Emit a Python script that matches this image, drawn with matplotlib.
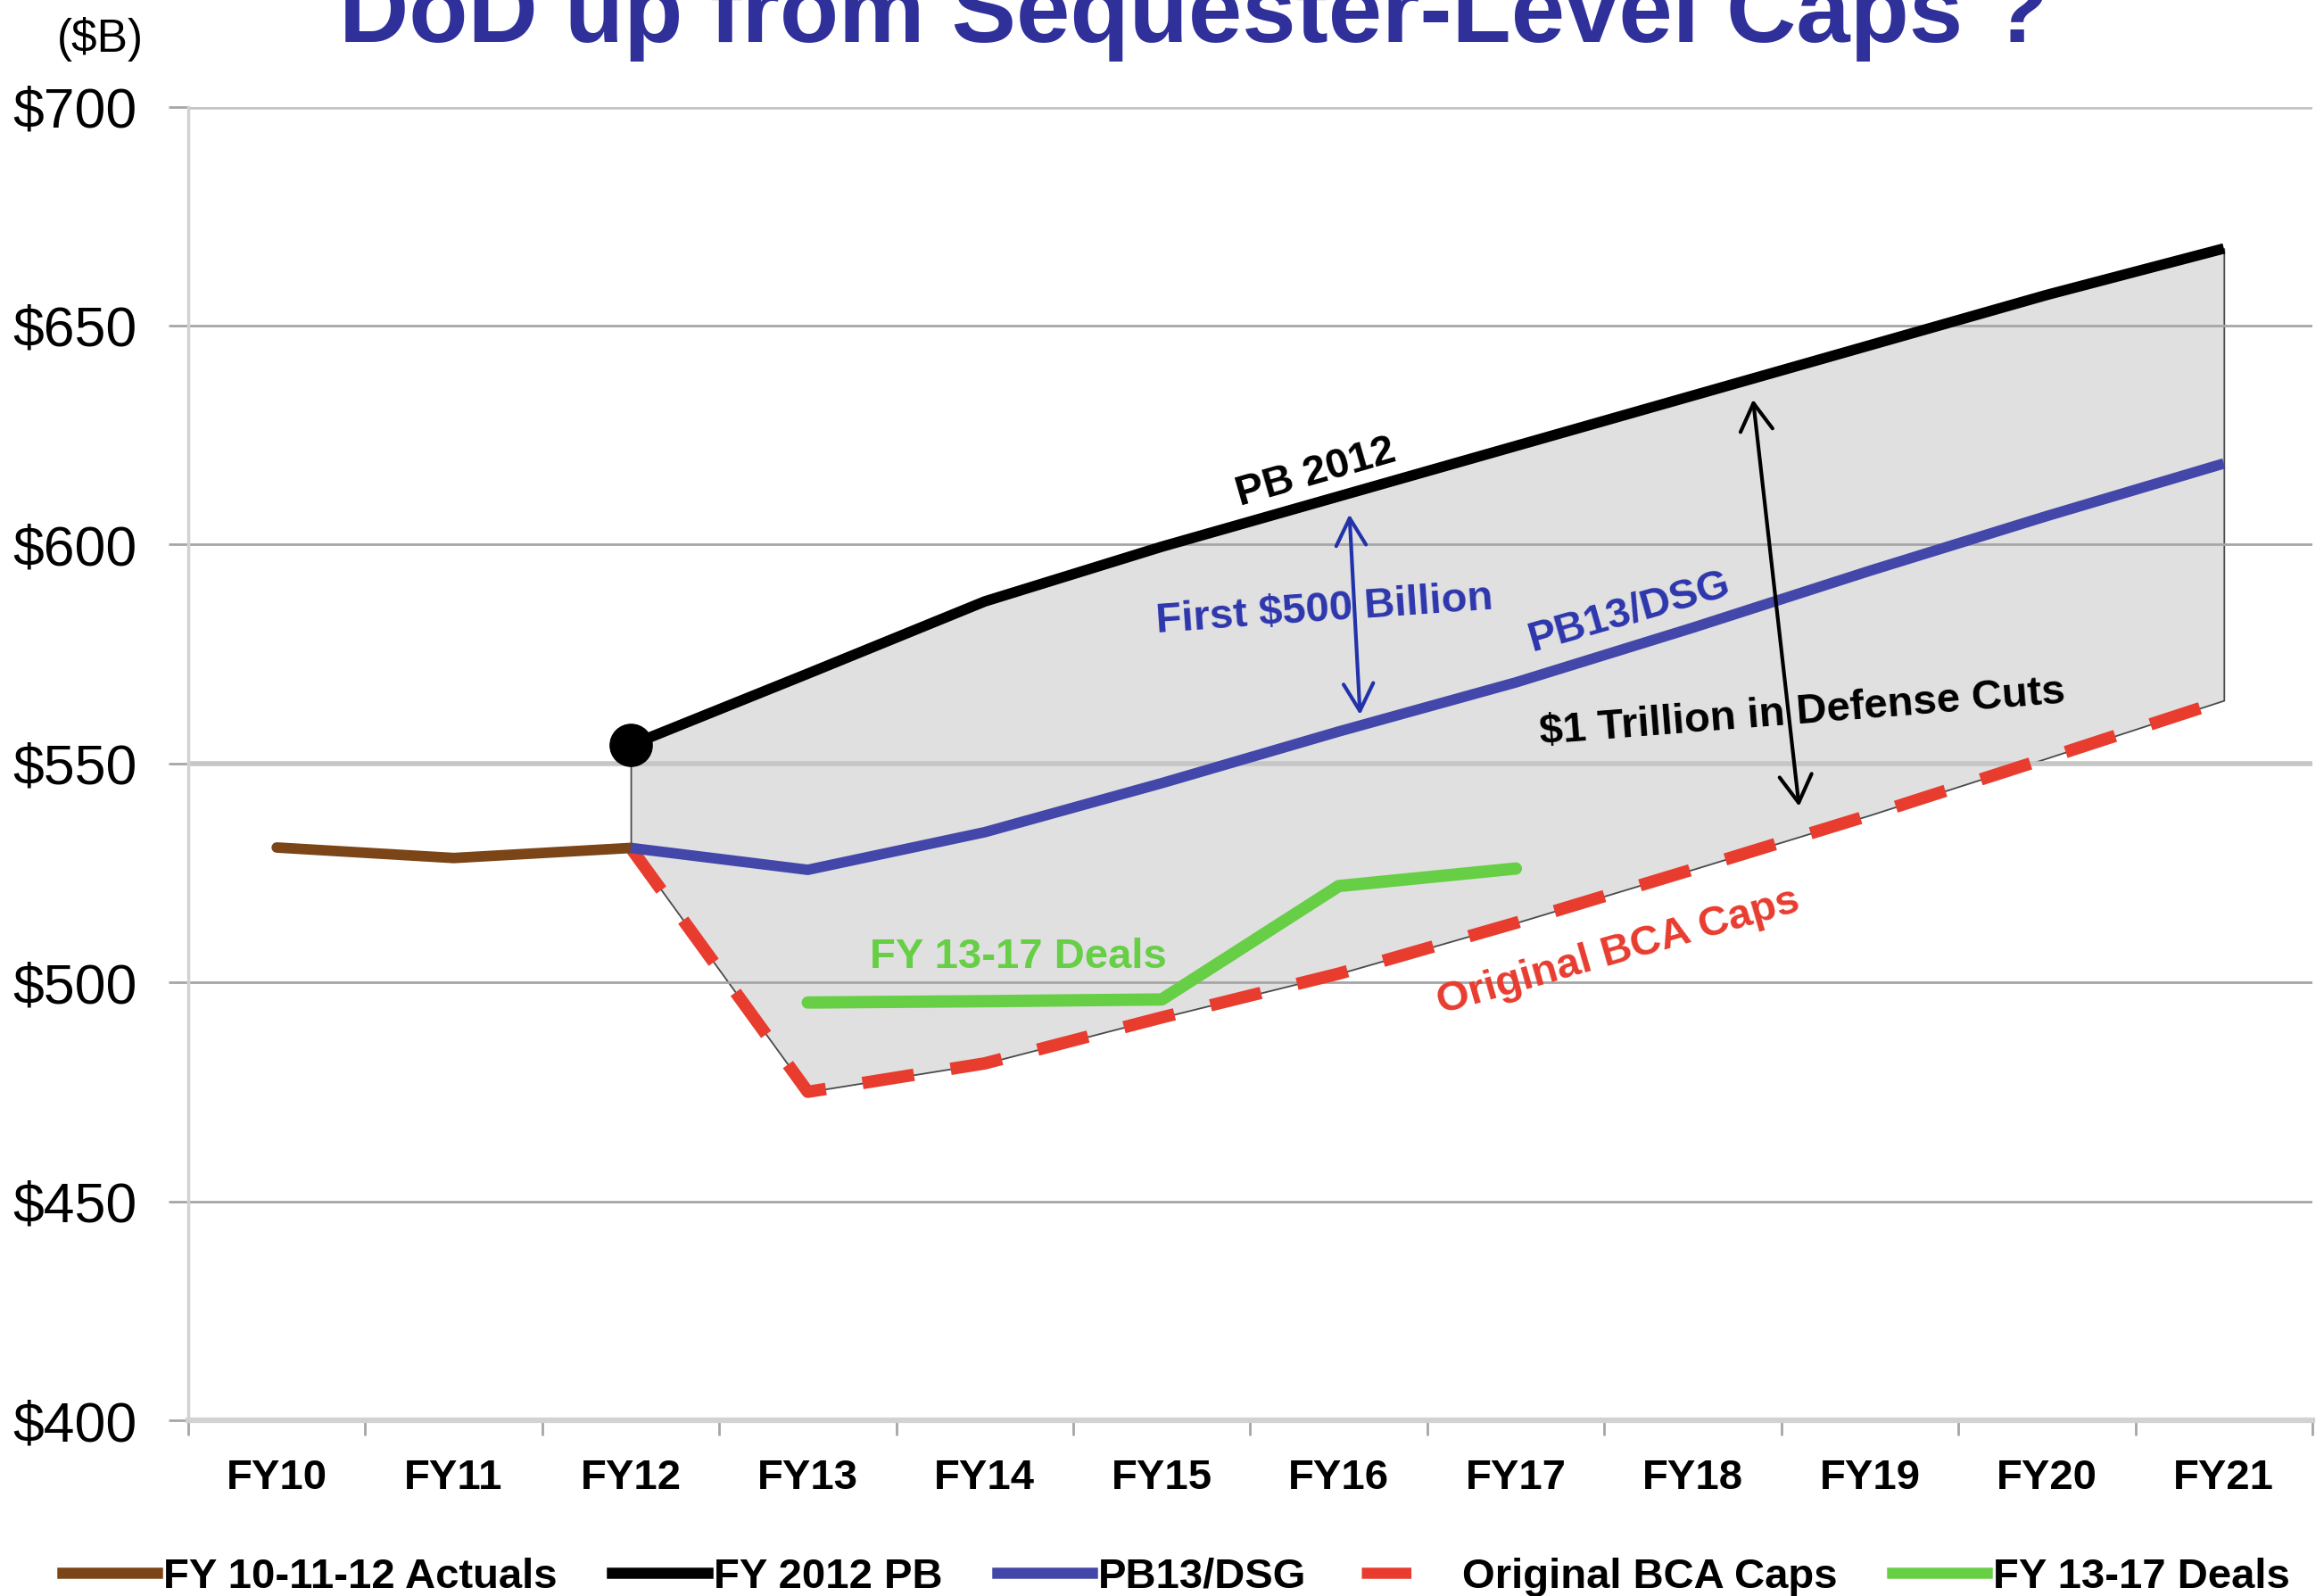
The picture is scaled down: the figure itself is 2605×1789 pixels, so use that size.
import matplotlib
matplotlib.use("Agg")
import matplotlib.pyplot as plt
from matplotlib.lines import Line2D
import numpy as np

plt.rcParams['font.family'] = ['Liberation Sans', 'DejaVu Sans']
plt.rcParams['lines.scale_dashes'] = False

# ---------------- data ----------------
years = ['FY10', 'FY11', 'FY12', 'FY13', 'FY14', 'FY15', 'FY16',
         'FY17', 'FY18', 'FY19', 'FY20', 'FY21']
actuals = [530.8, 528.4, 530.7]                                   # FY10-FY12
pb2012 = [554.2, 570.5, 587.0, 599.5, 611.0, 622.5, 634.0, 645.5, 657.0, 667.6]   # FY12-FY21
pb13_dsg = [530.7, 525.7, 534.3, 545.5, 557.3, 568.5, 581.0, 594.0, 606.5, 618.5]  # FY12-FY21
bca_caps = [530.7, 475.0, 481.5, 492.0, 502.0, 513.6, 525.8, 538.2, 551.2, 564.4]  # FY12-FY21
deals = [495.4, 495.7, 496.1, 522.0, 526.0]                       # FY13-FY17
yticks = [400, 450, 500, 550, 600, 650, 700]
ytick_labels = ['\\$400', '\\$450', '\\$500', '\\$550', '\\$600', '\\$650', '\\$700']
legend_labels = ['FY 10-11-12 Actuals', 'FY 2012 PB', 'PB13/DSG',
                 'Original BCA Caps', 'FY 13-17 Deals']

# ---------------- style ----------------
C_BROWN = '#7b4517'
C_BLACK = '#000000'
C_BLUE = '#4347a9'
C_RED = '#e83c2f'
C_GREEN = '#66cf45'
C_FILL = '#e0e0e0'
C_TXT_BLUE = '#2d36ad'
C_TITLE = '#30309a'

W, H = 2605, 1789
fig = plt.figure(figsize=(W / 100, H / 100), dpi=100)
ax = fig.add_axes([211 / W, 1 - 1592 / H, (2592 - 211) / W, (1592 - 119.5) / H])

x = np.arange(len(years))
x_act = x[0:3]
x_proj = x[2:]
x_deal = x[3:8]

ax.fill_between(x_proj, bca_caps, pb2012, facecolor=C_FILL, edgecolor='#4a4a4a',
                linewidth=1.3, zorder=1)
ax.plot(x_act, actuals, color=C_BROWN, lw=8.5, solid_capstyle='round', zorder=4)
ax.plot(x_proj, pb13_dsg, color=C_BLUE, lw=8.5, solid_capstyle='butt', zorder=4)
ax.plot(x_proj, bca_caps, color=C_RED, lw=10, linestyle=(0, (42, 30)),
        dash_capstyle='butt', zorder=3)
ax.plot(x_deal, deals, color=C_GREEN, lw=10, solid_capstyle='round', zorder=4)
ax.plot(x_proj, pb2012, color=C_BLACK, lw=8.5, solid_capstyle='butt', zorder=5)
ax.plot(x_proj[:1], pb2012[:1], 'o', color=C_BLACK, markersize=34, zorder=6)

# axes
ax.set_xlim(-0.5, len(years) - 0.5)
ax.set_ylim(400, 700)
ax.set_yticks(yticks)
ax.set_yticklabels(ytick_labels, fontsize=45)
ax.set_xticks(x)
ax.set_xticklabels(years, fontsize=34, fontweight='bold')
ax.set_xticks(np.arange(-0.5, len(years), 1), minor=True)
ax.tick_params(axis='x', which='major', length=0, pad=31)
ax.tick_params(axis='x', which='minor', length=12, width=2, color='#a6a6a6', direction='out')
ax.tick_params(axis='y', length=16, width=2, color='#a6a6a6', pad=25)
for s in ['top', 'right']:
    ax.spines[s].set_visible(False)
ax.spines['left'].set_color('#d2d2d2')
ax.spines['left'].set_linewidth(2.5)
ax.spines['bottom'].set_color('#d2d2d2')
ax.spines['bottom'].set_linewidth(4.5)
ax.set_axisbelow('line')
ax.yaxis.grid(True, color='#a6a6a6', linewidth=2)
for gl, v in zip(ax.get_ygridlines(), yticks):
    if v in (700, 550):
        gl.set_color('#c6c6c6')
        gl.set_linewidth(4)

# ---------------- annotations ----------------
ax.text(5.87, 616.4, 'PB 2012', fontsize=34, fontweight='bold', color='black',
        rotation=16, ha='center', va='center', rotation_mode='anchor', zorder=7)
ax.text(5.92, 585.0, 'First \\$500 Billion', fontsize=34, fontweight='bold', color=C_TXT_BLUE,
        rotation=4, ha='center', va='center', rotation_mode='anchor', zorder=7)
ax.text(7.64, 584.6, 'PB13/DSG', fontsize=34, fontweight='bold', color=C_TXT_BLUE,
        rotation=16, ha='center', va='center', rotation_mode='anchor', zorder=7)
ax.text(8.62, 561.5, '\\$1 Trillion in Defense Cuts', fontsize=34, fontweight='bold',
        color='black', rotation=4.5, ha='center', va='center', rotation_mode='anchor', zorder=7)
ax.text(7.58, 507.0, 'Original BCA Caps', fontsize=34, fontweight='bold', color=C_RED,
        rotation=16, ha='center', va='center', rotation_mode='anchor', zorder=7)
ax.text(4.19, 503.2, 'FY 13-17 Deals', fontsize=34, fontweight='bold', color=C_GREEN,
        ha='center', va='baseline', zorder=7)

ax.annotate('', xy=(6.06, 606.9), xytext=(6.12, 561.1),
            arrowprops=dict(arrowstyle='<->,head_length=1.1,head_width=0.6',
                            color='#2233aa', lw=3, shrinkA=0, shrinkB=0,
                            mutation_scale=20), zorder=7)
ax.annotate('', xy=(8.34, 633.1), xytext=(8.60, 540.2),
            arrowprops=dict(arrowstyle='<->,head_length=1.1,head_width=0.65',
                            color='black', lw=3, shrinkA=0, shrinkB=0,
                            mutation_scale=20), zorder=7)

# ---------------- title & unit ----------------
fig.text(1338 / W, 1 - 47 / H, 'DoD up from Sequester-Level Caps ?', fontsize=78,
         fontweight='bold', color=C_TITLE, ha='center', va='baseline')
fig.text(112 / W, 1 - 58 / H, '(\\$B)', fontsize=37, color='black',
         ha='center', va='baseline')

# ---------------- legend ----------------
handles = [
    Line2D([], [], color=C_BROWN, lw=9),
    Line2D([], [], color=C_BLACK, lw=9),
    Line2D([], [], color=C_BLUE, lw=9),
    Line2D([], [], color=C_RED, lw=9, linestyle=(0, (40, 100)), dash_capstyle='butt'),
    Line2D([], [], color=C_GREEN, lw=9),
]
leg = fig.legend(handles, legend_labels, loc='center left', bbox_to_anchor=(70 / W, 1 - 1768 / H),
                 ncol=5, frameon=False, borderpad=0, borderaxespad=0,
                 handlelength=2.25, handletextpad=0.15, columnspacing=1.3,
                 prop={'size': 34, 'weight': 'bold'})

fig.savefig('out.png', dpi=100)
